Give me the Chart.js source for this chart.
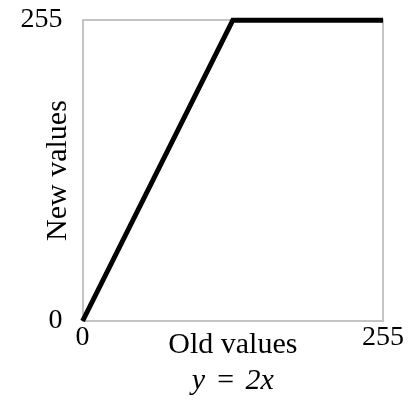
<!DOCTYPE html>
<html>
<head>
<meta charset="utf-8">
<script src="https://cdn.jsdelivr.net/npm/chart.js@4/dist/chart.umd.min.js"></script>
<style>
  html, body { margin: 0; padding: 0; background: #ffffff; }
  #wrap { width: 411px; height: 400px; }
</style>
</head>
<body>
<div id="wrap"><canvas id="c" width="411" height="400"></canvas></div>
<script>
// Data
const oldValues = [0, 127.5, 255];
const newValues = [0, 255, 255];
const xTickValues = [0, 255];
const yTickValues = [0, 255];
const xTitle = 'Old values';
const yTitle = 'New values';
const caption = 'y \u200A=\u200A 2x';

const points = oldValues.map((x, i) => ({ x: x, y: newValues[i] }));
const serif = "'Liberation Serif', 'DejaVu Serif', serif";
const borderGray = '#c4c4c4';

new Chart(document.getElementById('c'), {
  type: 'scatter',
  data: {
    datasets: [{
      data: points,
      showLine: true,
      borderColor: '#000000',
      borderWidth: 5,
      pointRadius: 0,
      pointHoverRadius: 0,
      fill: false,
      tension: 0,
      clip: false
    }]
  },
  options: {
    responsive: false,
    animation: false,
    events: [],
    layout: { padding: { left: 21, right: 28, top: 3, bottom: 0.5 } },
    plugins: {
      legend: { display: false },
      tooltip: { enabled: false },
      title: {
        display: true,
        position: 'bottom',
        fullSize: false,
        text: caption,
        color: '#000000',
        font: { family: serif, size: 30, style: 'italic', weight: 'normal', lineHeight: 1.2 },
        padding: { top: 0, bottom: 0 }
      }
    },
    scales: {
      x: {
        type: 'linear',
        position: 'bottom',
        min: 0,
        max: 255,
        afterBuildTicks: (s) => { s.ticks = xTickValues.map(v => ({ value: v })); },
        grid: { display: false, drawTicks: false },
        border: { display: true, color: borderGray, width: 2 },
        ticks: {
          color: '#000000',
          padding: 0,
          maxRotation: 0,
          font: { family: serif, size: 28, lineHeight: 1.2 },
          callback: (v) => String(v)
        },
        title: {
          display: true,
          text: xTitle,
          color: '#000000',
          font: { family: serif, size: 30, lineHeight: 1.2 },
          padding: { top: -27.1, bottom: 0 }
        }
      },
      y: {
        type: 'linear',
        position: 'left',
        min: 0,
        max: 255,
        afterBuildTicks: (s) => { s.ticks = yTickValues.map(v => ({ value: v })); },
        grid: { display: false, drawTicks: false },
        border: { display: true, color: borderGray, width: 2 },
        ticks: {
          color: '#000000',
          padding: 20,
          font: { family: serif, size: 28, lineHeight: 0.01 },
          callback: (v) => String(v)
        },
        title: {
          display: true,
          text: yTitle,
          color: '#000000',
          font: { family: serif, size: 30, lineHeight: 1.2 },
          padding: { top: 19.5, bottom: -75.9 }
        }
      },
      x2: {
        type: 'linear',
        axis: 'x',
        position: 'top',
        min: 0,
        max: 255,
        grid: { display: false, drawTicks: false },
        border: { display: true, color: borderGray, width: 2 },
        ticks: { display: false }
      },
      y2: {
        type: 'linear',
        axis: 'y',
        position: 'right',
        min: 0,
        max: 255,
        grid: { display: false, drawTicks: false },
        border: { display: true, color: borderGray, width: 2 },
        ticks: { display: false }
      }
    }
  }
});
</script>
</body>
</html>
